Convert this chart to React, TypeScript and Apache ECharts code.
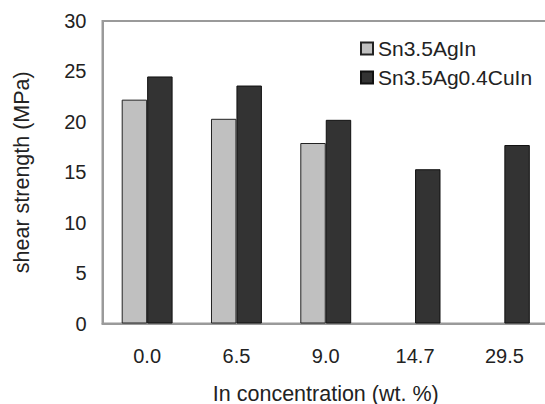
import React, { useEffect, useRef } from "react";
import * as echarts from "echarts";

const categories = ["0.0", "6.5", "9.0", "14.7", "29.5"];
const seriesNames = ["Sn3.5AgIn", "Sn3.5Ag0.4CuIn"];
const sn35AgIn: (number | null)[] = [22.2, 20.3, 17.9, null, null];
const sn35Ag04CuIn: number[] = [24.5, 23.6, 20.2, 15.3, 17.7];
const yTicks = { min: 0, max: 30, interval: 5 };

const FONT = "'Liberation Sans', Arial, sans-serif";

export default function App() {
  const ref = useRef<HTMLDivElement>(null);
  useEffect(() => {
    if (!ref.current) return;
    const chart = echarts.init(ref.current, undefined, { renderer: "svg" });
    chart.setOption({
      animation: false,
      backgroundColor: "#ffffff",
      textStyle: { fontFamily: FONT },
      grid: {
        left: 102.5,
        right: -4,
        top: 21,
        bottom: 80.5,
        containLabel: false,
        outerBoundsMode: "none",
        show: true,
        borderColor: "#9a9a9a",
        borderWidth: 2,
        backgroundColor: "transparent",
      },
      legend: {
        orient: "vertical",
        left: 355,
        top: 33,
        itemWidth: 12,
        itemHeight: 12,
        itemGap: 8,
        icon: "rect",
        textStyle: { fontSize: 21, color: "#222", fontFamily: FONT },
        data: seriesNames,
      },
      xAxis: {
        type: "category",
        data: categories,
        name: "In concentration (wt. %)",
        nameLocation: "middle",
        nameGap: 59,
        nameTextStyle: { fontSize: 21.5, color: "#222", fontFamily: FONT },
        axisLine: { show: true, lineStyle: { color: "#9a9a9a", width: 2 } },
        axisTick: { show: false },
        axisLabel: { fontSize: 20, color: "#222", margin: 22, fontFamily: FONT },
        splitLine: { show: false },
      },
      yAxis: [
        {
          type: "value",
          min: yTicks.min,
          max: yTicks.max,
          interval: yTicks.interval,
          name: "shear strength (MPa)",
          nameLocation: "middle",
          nameGap: 70,
          nameTextStyle: { fontSize: 21.5, color: "#222", fontFamily: FONT },
          axisLine: { show: true, lineStyle: { color: "#9a9a9a", width: 2 } },
          axisTick: { show: false },
          axisLabel: { fontSize: 20, color: "#222", margin: 16, fontFamily: FONT },
          splitLine: { show: false },
        },
      ],
      series: [
        {
          name: seriesNames[0],
          type: "bar",
          data: sn35AgIn,
          barGap: "0%",
          barCategoryGap: "43%",
          itemStyle: { color: "#c0c0c0", borderColor: "#222", borderWidth: 1 },
        },
        {
          name: seriesNames[1],
          type: "bar",
          data: sn35Ag04CuIn,
          barGap: "0%",
          barCategoryGap: "43%",
          itemStyle: { color: "#333333", borderColor: "#111", borderWidth: 1 },
        },
      ],
    });
    return () => chart.dispose();
  }, []);
  return (
    <div
      ref={ref}
      style={{ position: "absolute", left: 0, top: 0, width: 545, height: 404 }}
    />
  );
}
